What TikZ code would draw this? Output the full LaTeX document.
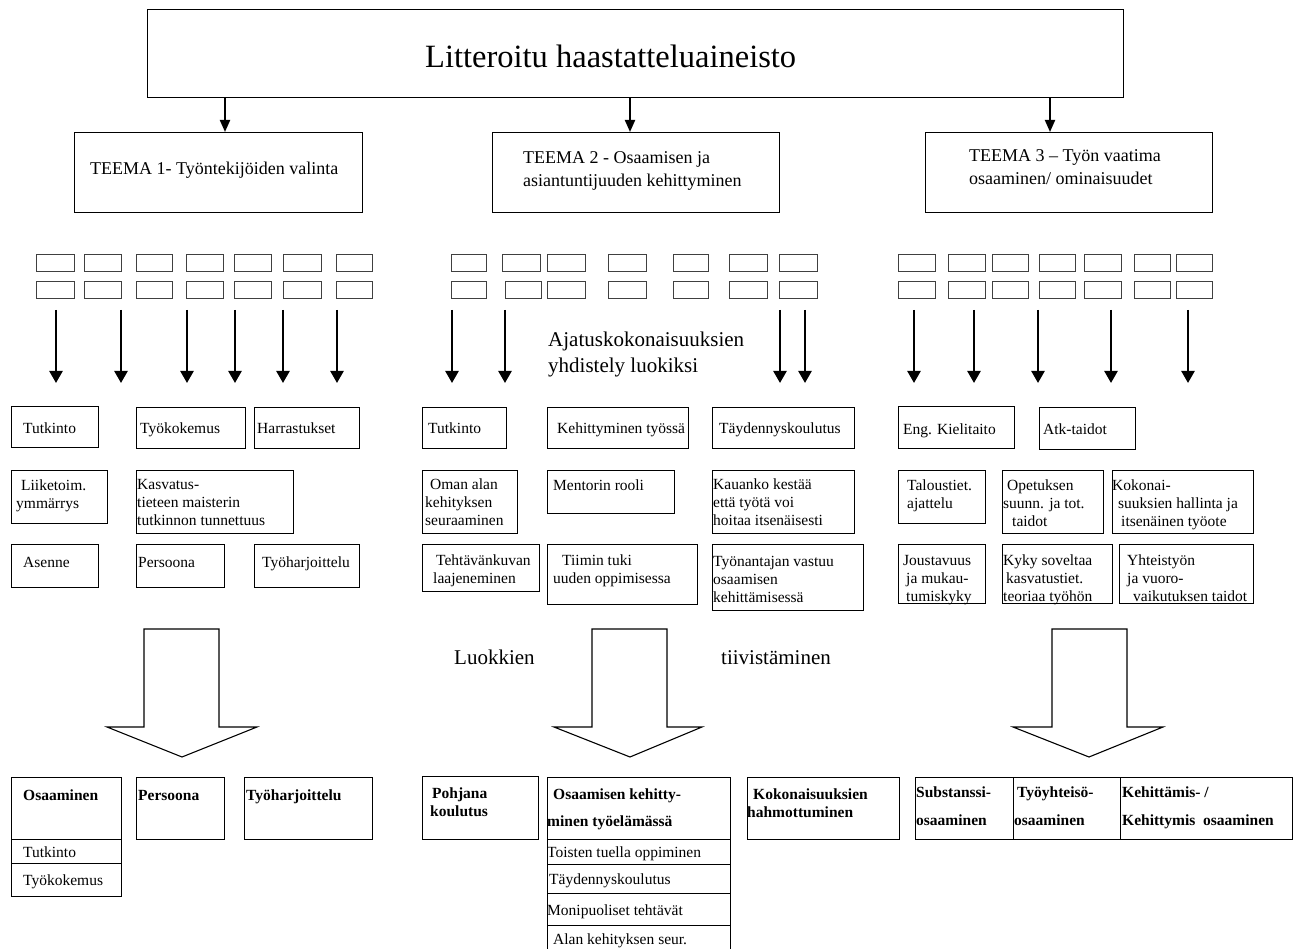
\documentclass[tikz,border=0pt]{standalone}
\usepackage{fontspec}
\setmainfont{Liberation Serif}
\usetikzlibrary{arrows.meta}
\tikzset{
 box/.style={draw=black, line width=1.1pt, inner sep=0pt, anchor=north west},
 sbox/.style={draw=black!75, line width=1.3pt, inner sep=0pt, anchor=north west},
 txt/.style={anchor=west, inner sep=0pt, align=left, yshift=-2pt, font=\fontsize{15.5}{18}\selectfont,
   execute at begin node=\strut, execute at end node=\strut},
 btxt/.style={txt, font=\fontsize{15.5}{18}\selectfont\bfseries},
 ttxt/.style={txt, font=\fontsize{18}{23}\selectfont},
 mtxt/.style={txt, font=\fontsize{21}{26}\selectfont},
 darr/.style={line width=2.4pt, -{Triangle[width=13pt,length=12pt]}},
 tarr/.style={line width=2pt, -{Triangle[width=10pt,length=12pt]}},
 bigarr/.style={draw=black, line width=1.1pt, fill=white, line join=miter},
}
\newcommand\mybox[6][box]{\node[#1, minimum width={#5pt-#3pt}, minimum height={#6pt-#4pt}] (#2) at (#3,#4) {};}
\begin{document}
\begin{tikzpicture}[x=1pt,y=-1pt]
\useasboundingbox (0,0) rectangle (1293,949);
% title and themes
\mybox{title}{147}{9}{1123}{97}
\node[txt, font=\fontsize{32.5}{38}\selectfont, yshift=-3pt] (titletxt) at (425,55) {Litteroitu haastatteluaineisto};
\mybox{t1}{74}{132}{362}{212}
\mybox{t2}{492}{132}{779}{212}
\mybox{t3}{925}{132}{1212}{212}
\node[ttxt] (t1txt) at (90,168) {TEEMA 1- Työntekijöiden valinta};
\node[ttxt] (t2txt) at (523,170) {TEEMA 2 - Osaamisen ja\\asiantuntijuuden kehittyminen};
\node[ttxt] (t3txt) at (969,168) {TEEMA 3 – Työn vaatima\\osaaminen/ ominaisuudet};
\coordinate (ta1) at (225,0);
\coordinate (ta2) at (630,0);
\coordinate (ta3) at (1050,0);
\draw[tarr] (title.south -| ta1) -- (t1.north -| ta1);
\draw[tarr] (title.south -| ta2) -- (t2.north -| ta2);
\draw[tarr] (title.south -| ta3) -- (t3.north -| ta3);
% small boxes
\foreach \a/\b [count=\i] in {36/74,84/121,136/172,186/223,234/271,283/321,336/372}{
  \mybox[sbox]{sa\i}{\a}{254}{\b}{271}
  \mybox[sbox]{sb\i}{\a}{281}{\b}{298}}
\foreach \a/\b [count=\i] in {451/486,502/540,547/585,608/646,673/708,729/767,779/817}{
  \mybox[sbox]{sc\i}{\a}{254}{\b}{271}}
\foreach \a/\b [count=\i] in {451/486,505/541,547/585,608/646,673/708,729/767,779/817}{
  \mybox[sbox]{sd\i}{\a}{281}{\b}{298}}
\foreach \a/\b [count=\i] in {898/935,948/985,992/1028,1039/1075,1084/1121,1134/1170,1176/1212}{
  \mybox[sbox]{se\i}{\a}{254}{\b}{271}
  \mybox[sbox]{sf\i}{\a}{281}{\b}{298}}
% down arrows
\foreach \x [count=\i] in {56,121,187,235,283,337,452,505,780,805,914,974,1038,1111,1188}{
  \coordinate (ds\i) at (\x,310);
  \coordinate (de\i) at (\x,383);
  \draw[darr] (ds\i) -- (de\i);}
\node[mtxt] (ajatus) at (548,354) {Ajatuskokonaisuuksien\\yhdistely luokiksi};
% column 1 categories
\mybox{c1tut}{11}{406}{98}{447}
\mybox{c1tyo}{136}{407}{245}{448}
\mybox{c1har}{254}{407}{359}{448}
\mybox{c1lii}{11}{470}{107}{523}
\mybox{c1kas}{136}{470}{293}{533}
\mybox{c1ase}{11}{544}{98}{587}
\mybox{c1per}{136}{544}{224}{587}
\mybox{c1tyh}{254}{544}{359}{587}
\node[txt] (c1tutt) at (23,428) {Tutkinto};
\node[txt] (c1tyot) at (140,428) {Työkokemus};
\node[txt] (c1hart) at (257,428) {Harrastukset};
\node[txt] (c1liit) at (16,495) {\hspace{5pt}Liiketoim.\\ymmärrys};
\node[txt] (c1kast) at (137,503) {Kasvatus-\\tieteen maisterin\\tutkinnon tunnettuus};
\node[txt] (c1aset) at (23,562) {Asenne};
\node[txt] (c1pert) at (138,562) {Persoona};
\node[txt] (c1tyht) at (262,562) {Työharjoittelu};
% column 2 categories
\mybox{c2tut}{422}{407}{506}{448}
\mybox{c2keh}{547}{407}{688}{448}
\mybox{c2tay}{712}{407}{854}{448}
\mybox{c2oma}{422}{470}{517}{533}
\mybox{c2men}{547}{470}{674}{513}
\mybox{c2kau}{712}{470}{854}{533}
\mybox{c2teh}{422}{544}{539}{591}
\mybox{c2tii}{547}{544}{697}{604}
\mybox{c2tyn}{712}{544}{863}{610}
\node[txt] (c2tutt) at (428,428) {Tutkinto};
\node[txt] (c2keht) at (557,428) {Kehittyminen työssä};
\node[txt] (c2tayt) at (719,428) {Täydennyskoulutus};
\node[txt] (c2omat) at (425,503) {\hspace{5pt}Oman alan\\kehityksen\\seuraaminen};
\node[txt] (c2ment) at (553,485) {Mentorin rooli};
\node[txt] (c2kaut) at (713,503) {Kauanko kestää\\että työtä voi\\hoitaa itsenäisesti};
\node[txt] (c2teht) at (433,570) {\hspace{3pt}Tehtävänkuvan\\laajeneminen};
\node[txt] (c2tiit) at (553,570) {\hspace{9pt}Tiimin tuki\\uuden oppimisessa};
\node[txt] (c2tynt) at (713,580) {Työnantajan vastuu\\osaamisen\\kehittämisessä};
% column 3 categories
\mybox{c3eng}{898}{406}{1014}{448}
\mybox{c3atk}{1039}{407}{1135}{449}
\mybox{c3tal}{898}{470}{985}{523}
\mybox{c3ope}{1002}{470}{1103}{533}
\mybox{c3kok}{1112}{470}{1253}{533}
\mybox{c3jou}{898}{544}{985}{603}
\mybox{c3kyk}{1002}{544}{1112}{603}
\mybox{c3yht}{1119}{544}{1253}{603}
\node[txt] (c3engt) at (903,429) {Eng. Kielitaito};
\node[txt] (c3atkt) at (1043,429) {Atk-taidot};
\node[txt] (c3talt) at (907,495) {Taloustiet.\\ajattelu};
\node[txt] (c3opet) at (1003,504) {\hspace{4pt}Opetuksen\\suunn. ja tot.\\\hspace{9pt}taidot};
\node[txt] (c3kokt) at (1112,504) {Kokonai-\\\hspace{6pt}suuksien hallinta ja\\\hspace{9pt}itsenäinen työote};
\node[txt] (c3jout) at (903,579) {Joustavuus\\\hspace{3pt}ja mukau-\\\hspace{3pt}tumiskyky};
\node[txt] (c3kykt) at (1003,579) {Kyky soveltaa\\\hspace{3pt}kasvatustiet.\\teoriaa työhön};
\node[txt] (c3yhtt) at (1127,579) {Yhteistyön\\ja vuoro-\\\hspace{6pt}vaikutuksen taidot};
% big hollow arrows
\draw[bigarr] (144,629) -- (219,629) -- (219,727) -- (257,727) -- (182,757) -- (107,727) -- (144,727) -- cycle;
\draw[bigarr] (592,629) -- (667,629) -- (667,727) -- (702,727) -- (630,757) -- (554,727) -- (592,727) -- cycle;
\draw[bigarr] (1052,629) -- (1127,629) -- (1127,727) -- (1163,727) -- (1089,757) -- (1013,727) -- (1052,727) -- cycle;
\node[mtxt] (luokkien) at (454,657) {Luokkien};
\node[mtxt] (tiivist) at (721,657) {tiivistäminen};
% bottom row
\mybox{b1osa}{11}{777}{121}{839}
\mybox{b1tut}{11}{839}{121}{863}
\mybox{b1tyo}{11}{863}{121}{896}
\mybox{b1per}{136}{777}{224}{839}
\mybox{b1tyh}{244}{777}{372}{839}
\node[btxt] (b1osat) at (23,795) {Osaaminen};
\node[txt] (b1tutt) at (23,852) {Tutkinto};
\node[txt] (b1tyot) at (23,880) {Työkokemus};
\node[btxt] (b1pert) at (138,795) {Persoona};
\node[btxt] (b1tyht) at (246,795) {Työharjoittelu};
\mybox{b2poh}{422}{776}{538}{839}
\mybox{b2osa}{547}{777}{730}{839}
\mybox{b2r1}{547}{839}{730}{864}
\mybox{b2r2}{547}{864}{730}{893}
\mybox{b2r3}{547}{893}{730}{925}
\mybox{b2r4}{547}{925}{730}{962}
\mybox{b2kok}{747}{777}{899}{839}
\node[btxt] (b2poht) at (430,803) {\hspace{2pt}Pohjana\\koulutus};
\node[btxt] (b2osat) at (547,808) {\hspace{6pt}Osaamisen kehitty-\\[9pt]minen työelämässä};
\node[txt] (b2r1t) at (547,852) {Toisten tuella oppiminen};
\node[txt] (b2r2t) at (549,879) {Täydennyskoulutus};
\node[txt] (b2r3t) at (547,910) {Monipuoliset tehtävät};
\node[txt] (b2r4t) at (553,939) {Alan kehityksen seur.};
\node[btxt] (b2kokt) at (747,804) {\hspace{6pt}Kokonaisuuksien\\hahmottuminen};
\mybox{b3sub}{915}{777}{1013}{839}
\mybox{b3tyo}{1013}{777}{1120}{839}
\mybox{b3keh}{1120}{777}{1292}{839}
\node[btxt] (b3subt) at (916,807) {Substanssi-\\[10pt]osaaminen};
\node[btxt] (b3tyot) at (1014,807) {\hspace{3pt}Työyhteisö-\\[10pt]osaaminen};
\node[btxt] (b3keht) at (1122,807) {Kehittämis- /\\[10pt]Kehittymis\ \ osaaminen};
\end{tikzpicture}
\end{document}
